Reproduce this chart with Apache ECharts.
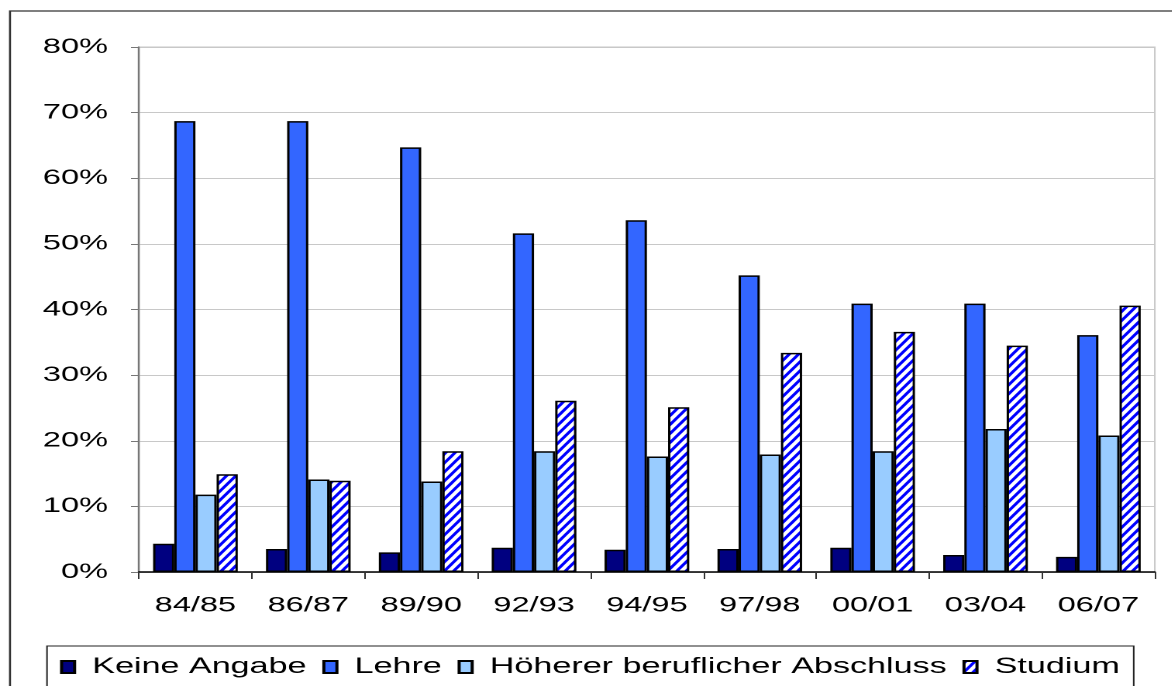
<!DOCTYPE html>
<html>
<head>
<meta charset="utf-8">
<script src="https://cdn.jsdelivr.net/npm/echarts@6/dist/echarts.min.js"></script>
<style>
  html, body { margin: 0; padding: 0; background: #fff; overflow: hidden; }
  #wrap { width: 1172px; height: 686px; overflow: hidden; position: relative; }
  #chart { width: 756px; height: 686px; transform: scaleX(1.55); transform-origin: 0 0; position: absolute; left: 0; top: 0; }
</style>
</head>
<body>
<div id="wrap"><div id="chart"></div></div>
<script>
// ---- data ----
const categories = ['84/85', '86/87', '89/90', '92/93', '94/95', '97/98', '00/01', '03/04', '06/07'];
const seriesNames = ['Keine Angabe', 'Lehre', 'Höherer beruflicher Abschluss', 'Studium'];
const keineAngabe = [4.3, 3.5, 3.0, 3.7, 3.4, 3.5, 3.7, 2.6, 2.3];
const lehre = [68.7, 68.7, 64.7, 51.6, 53.6, 45.2, 40.9, 40.9, 36.1];
const hoeherer = [11.8, 14.1, 13.8, 18.4, 17.6, 17.9, 18.4, 21.8, 20.8];
const studium = [14.9, 13.9, 18.4, 26.1, 25.1, 33.4, 36.6, 34.5, 40.6];
const yTicks = { min: 0, max: 80, interval: 10 };

// ---- stripe pattern for "Studium" ----
function makeStripes() {
  const S = 2;            // supersampling
  const W = 6, H = 9;     // tile in chart px (before the horizontal stretch)
  const c = document.createElement('canvas');
  c.width = W * S; c.height = H * S;
  const ctx = c.getContext('2d');
  ctx.scale(S, S);
  ctx.fillStyle = '#ffffff';
  ctx.fillRect(0, 0, W, H);
  ctx.fillStyle = '#0000ff';
  const t = 2.7;
  for (let k = -2; k <= 1; k++) {
    ctx.beginPath();
    ctx.moveTo(k * W, H);
    ctx.lineTo(k * W + t, H);
    ctx.lineTo(k * W + t + W, 0);
    ctx.lineTo(k * W + W, 0);
    ctx.closePath();
    ctx.fill();
  }
  return { image: c, repeat: 'repeat', scaleX: 1 / S, scaleY: 1 / S };
}

const SX = 1.55;
const FONT = 'Arial, "Liberation Sans", sans-serif';
const chart = echarts.init(document.getElementById('chart'), null, { renderer: 'canvas', devicePixelRatio: 2 });

const border = { borderColor: '#000', borderWidth: 1.5 };
const mk = (name, data, color) => ({
  name, type: 'bar', data,
  barGap: '0%', barCategoryGap: '25%',
  itemStyle: Object.assign({ color }, border),
  emphasis: { disabled: true }
});

chart.setOption({
  animation: false,
  backgroundColor: '#fff',
  graphic: {
    elements: [{
      type: 'rect', z: -10, silent: true,
      shape: { x: 10 / SX, y: 11, width: 2000, height: 2000 },
      style: { fill: 'none', stroke: '#333', lineWidth: 1.3 }
    }]
  },
  grid: {
    left: 139 / SX, right: 756.13 - 1155 / SX, top: 47, bottom: 686 - 572,
    show: true, borderColor: '#c8c8c8', borderWidth: 1, backgroundColor: 'transparent'
  },
  legend: {
    data: seriesNames,
    left: 47 / SX, top: 646,
    padding: [10, 9, 40, 8.4],
    itemWidth: 8.4, itemHeight: 12, itemGap: 10.2,
    icon: 'rect',
    borderColor: '#222', borderWidth: 1, backgroundColor: '#fff',
    textStyle: { fontFamily: FONT, fontSize: 22, color: '#000', padding: [0, 0, 0, 6.4] },
    selectedMode: false
  },
  xAxis: {
    type: 'category', data: categories,
    axisLine: { lineStyle: { color: '#000', width: 1.5 } },
    axisTick: { show: true, alignWithLabel: false, length: 7, lineStyle: { color: '#333', width: 1 } },
    axisLabel: { fontFamily: FONT, fontSize: 21, color: '#000', margin: 23 },
    splitLine: { show: false }
  },
  yAxis: {
    type: 'value', min: yTicks.min, max: yTicks.max, interval: yTicks.interval,
    axisLine: { show: true, lineStyle: { color: '#777', width: 1.2 } },
    axisTick: { show: true, inside: false, length: 8 / SX, lineStyle: { color: '#777', width: 1 } },
    axisLabel: { fontFamily: FONT, fontSize: 21, color: '#000', margin: 20, formatter: '{value}%' },
    splitLine: { show: true, lineStyle: { color: '#c8c8c8', width: 1 } }
  },
  series: [
    mk(seriesNames[0], keineAngabe, '#000080'),
    mk(seriesNames[1], lehre, '#3366ff'),
    mk(seriesNames[2], hoeherer, '#99ccff'),
    mk(seriesNames[3], studium, makeStripes())
  ]
});
</script>
</body>
</html>
